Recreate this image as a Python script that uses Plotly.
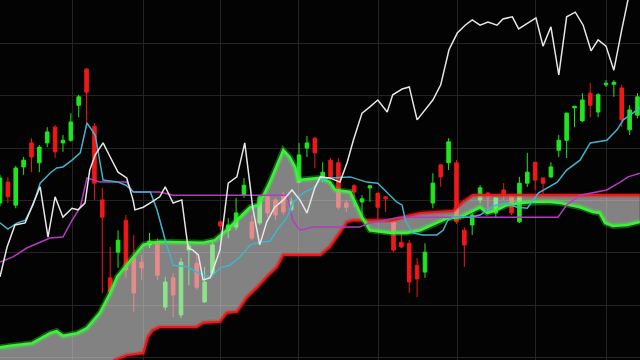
import plotly.graph_objects as go

# ---------------- candles (index-based x) ----------------
opens = [119.5,123.5,119.1,126.4,131.0,127.2,131.0,134.0,131.0,131.5,
         138.2,145.1,134.2,120.1,105.2,110.1,116.2,109.0,108.2,111.5,
         112.0,99.6,105.2,98.1,110.5,108.0,100.6,106.1,115.9,114.3,
         114.9,121.0,115.9,115.7,120.7,120.1,121.0,118.2,123.5,130.0,
         131.9,124.3,127.7,127.2,119.5,122.8,119.7,122.4,121.4,120.7,
         115.9,112.0,111.8,107.6,106.3,119.5,126.8,127.2,127.2,114.3,
         115.3,120.1,121.4,117.6,122.0,120.7,115.9,123.3,127.3,124.3,
         124.5,129.6,131.5,137.7,135.2,140.5,136.9,142.1,142.2,141.5,
         133.5,136.3]
highs = [124.9,124.5,126.6,128.3,131.9,130.6,134.0,134.4,132.5,136.7,
         140.2,145.3,134.8,122.4,111.1,114.3,117.2,113.4,109.6,113.8,
         112.8,105.4,106.1,109.0,111.7,110.0,107.3,112.0,116.1,116.6,
         120.5,124.3,117.2,121.0,121.0,120.5,121.6,120.5,131.0,132.3,
         132.1,127.3,128.1,128.1,120.1,123.1,121.0,122.8,121.4,120.7,
         116.2,113.8,112.4,109.0,111.8,125.2,126.8,131.9,127.7,114.9,
         117.6,122.9,121.6,120.7,123.3,121.0,124.5,129.1,127.3,124.3,
         127.3,132.5,136.7,138.0,140.5,142.4,140.5,143.0,143.0,142.1,
         138.2,140.5]
lows = [118.9,119.5,118.5,124.9,125.4,125.4,130.2,128.1,129.3,131.2,
        135.9,134.8,120.1,102.3,101.9,107.1,105.2,98.7,104.8,110.9,
        104.8,99.0,97.7,97.5,103.8,102.9,100.4,105.4,114.3,112.8,
        114.3,120.5,112.4,115.3,116.8,116.2,117.2,117.4,123.3,128.3,
        126.2,123.5,123.9,118.2,117.8,118.7,116.2,119.7,116.2,117.8,
        110.1,110.9,102.3,101.5,105.2,118.5,122.6,125.8,115.5,107.3,
        113.4,119.5,118.2,116.6,120.1,117.2,115.7,122.6,122.0,120.7,
        124.3,128.3,128.1,134.0,135.0,135.9,135.9,141.7,139.8,134.0,
        132.5,135.7]
closes = [124.3,120.7,126.2,127.7,128.3,130.2,133.1,129.3,131.5,135.0,
          139.8,140.7,123.3,116.8,102.5,112.4,106.7,102.3,107.1,112.2,
          105.7,104.4,101.9,108.2,111.3,103.4,104.4,111.5,115.1,115.3,
          117.6,122.9,112.8,120.7,117.6,117.2,117.8,119.7,128.7,131.0,
          129.1,125.4,124.5,118.7,118.7,121.6,120.3,122.8,118.7,120.3,
          110.5,111.1,104.4,105.0,110.1,123.3,124.5,131.2,115.9,111.5,
          117.2,122.4,120.7,120.5,121.0,117.6,123.3,125.4,123.9,123.3,
          126.4,131.5,136.7,138.0,139.2,138.2,140.2,142.4,142.6,135.4,
          137.3,139.8]
candle_x = list(range(len(opens)))

# ---------------- Ichimoku lines ----------------
tenkan_x = [0,1.0,2.2,3.2,4.2,5.1,6.35,7.2,8.0,9.15,10.2,11.05,12.1,13.1,15.0,16.0,17.0,19.1,19.95,21.0,
            22.0,23.8,24.5,25.8,26.9,27.95,29.2,30.5,31.8,33.0,34.3,35.2,36.5,37.2,38.5,39.8,40.7,41.9,44.5,46.6,
            48.0,49.2,50.4,51.1,51.5,52.4,53.7,55.5,56.3,56.9,57.6,59.7,61.0,62.6,64.2,65.7,67.0,68.4,69.5,70.8,
            72.0,73.7,75.0,77.1,78.4,79.2,80.4,81.3]
tenkan_y = [115.7,114.5,115.7,116.2,119.1,123.3,125.2,126.2,126.4,127.7,129.1,134.8,132.5,123.9,123.5,122.9,121.6,121.6,118.2,112.4,
            107.6,107.3,106.7,105.7,105.4,107.1,107.6,109.2,111.5,112.0,112.2,114.3,116.8,119.5,121.4,122.4,123.9,124.3,124.5,123.5,
            123.3,121.6,119.7,119.1,116.2,113.8,113.4,113.4,114.3,116.2,116.8,116.8,117.2,118.9,119.5,118.7,118.5,121.4,122.4,123.5,
            125.8,127.7,131.0,131.5,133.5,135.4,136.7,137.7]

kijun_x = [0,1.65,3.4,4.7,6.35,8.0,9.15,10.2,11.05,12.7,16.1,16.9,20.3,22.0,36.5,37.2,38.1,39.8,45.7,47.0,
           48.7,50.8,70.9,72.0,73.7,75.0,77.1,78.8,79.8,81.3]
kijun_y = [108.2,109.2,110.9,111.8,112.8,113.0,116.2,118.7,124.3,123.5,123.5,121.6,121.6,121.0,121.0,116.2,114.3,114.9,114.9,115.7,
           116.2,116.8,116.8,119.1,121.0,121.4,122.0,123.5,124.5,125.2]

chikou_x = [0,0.9,1.9,3.2,5.1,6.1,7.0,8.0,9.15,9.9,10.8,11.4,12.1,13.1,14.0,15.0,16.1,16.9,17.15,18.2,
            19.3,20.3,21.0,22.0,23.1,23.9,24.5,25.2,25.8,26.7,27.95,29.0,30.1,31.1,31.8,32.1,33.0,33.9,34.9,36.0,
            37.1,38.1,39.0,40.0,40.7,41.9,43.2,44.1,44.9,46.0,47.0,48.0,49.2,49.9,51.1,52.0,53.0,54.0,55.0,56.0,
            57.05,58.1,59.1,60.0,61.0,62.0,63.15,63.9,65.1,65.9,67.1,68.1,69.0,70.0,71.0,72.0,73.1,74.1,75.1,76.0,
            77.0,78.0,79.0,80.05]
chikou_y = [105.4,111.1,115.3,115.7,122.6,113.0,120.7,116.8,118.5,118.2,119.5,125.8,128.7,131.0,128.3,125.4,124.3,120.1,118.2,118.7,
            119.7,120.7,122.6,119.5,120.1,110.9,110.5,109.6,104.8,105.2,110.5,123.3,124.5,131.0,122.6,118.7,111.5,115.9,118.7,120.1,
            122.0,120.1,117.6,122.4,124.5,124.3,123.5,127.2,131.5,136.7,137.9,139.2,136.9,140.2,141.3,141.7,135.4,137.3,139.2,142.1,
            148.8,152.0,153.5,154.5,153.5,154.1,153.5,154.7,155.1,152.8,153.9,154.9,149.5,153.2,144.0,155.1,156.0,153.5,148.6,150.7,
            149.5,144.9,152.6,160.2]

span_a_x = [0,1.3,4.1,6.35,7.2,8.0,9.8,11.05,12.7,14.0,14.9,16.9,18.2,19.1,20.3,25.8,27.3,28.8,30.5,31.8,
            32.7,33.4,34.3,35.3,36.0,36.8,37.5,37.9,40.7,41.9,42.6,44.5,46.0,47.0,49.6,51.7,53.4,55.5,56.8,58.45,
            59.7,61.0,61.9,63.15,64.4,66.1,67.7,69.9,71.2,73.7,75.35,76.2,76.9,77.9,79.7,81.3]
span_a_y = [91.9,92.2,92.7,94.6,95.0,94.1,94.6,95.6,98.5,102.3,105.4,109.2,111.5,111.9,112.1,111.9,112.4,114.3,116.8,118.7,
            119.1,120.7,123.5,127.2,129.6,128.3,126.4,123.9,124.3,123.5,122.0,121.6,116.8,114.3,113.8,113.8,114.3,115.7,116.6,116.8,
            117.8,118.7,117.6,118.2,119.1,119.5,119.7,119.7,119.5,118.7,117.8,117.6,115.7,115.1,115.3,115.9]

span_b_x = [0,12.7,14.6,16.1,18.2,18.8,19.4,20.3,25.0,25.8,27.95,28.8,30.1,31.4,32.7,33.9,35.2,36.0,40.7,41.9,
            43.2,44.1,44.9,49.9,51.7,53.4,57.6,58.8,60.1,81.3]
span_b_y = [86.6,86.6,89.5,90.4,90.8,93.9,95.2,95.8,95.8,96.6,96.8,98.5,98.7,101.5,103.4,105.4,107.3,109.6,109.6,111.1,
            113.9,115.9,116.2,116.2,117.0,117.6,118.0,119.7,121.0,121.0]

grid_x = [9.15, 18.17, 28.08, 37.99, 48.03, 58.07, 67.98, 77.0]
grid_y = [90, 100, 110, 120, 130, 140, 150]

GREEN = "#1fe61f"
RED = "#f01818"

fig = go.Figure()

fig.add_trace(go.Candlestick(
    x=candle_x, open=opens, high=highs, low=lows, close=closes,
    increasing=dict(line=dict(color=GREEN, width=1), fillcolor=GREEN),
    decreasing=dict(line=dict(color=RED, width=1), fillcolor=RED),
    whiskerwidth=0, showlegend=False, hoverinfo="skip"))

# cloud polygon (drawn over the candles, semi-transparent)
fig.add_trace(go.Scatter(
    x=span_a_x + span_b_x[::-1], y=span_a_y + span_b_y[::-1],
    fill="toself", fillcolor="rgba(222,222,222,0.58)",
    line=dict(width=0), mode="lines", showlegend=False, hoverinfo="skip"))

# span B (red) with glow
fig.add_trace(go.Scatter(x=span_b_x, y=span_b_y, mode="lines",
                         line=dict(color="rgba(240,30,30,0.3)", width=5), showlegend=False))
fig.add_trace(go.Scatter(x=span_b_x, y=span_b_y, mode="lines",
                         line=dict(color="#e81a1a", width=2.2), showlegend=False))
# span A (green) with glow
fig.add_trace(go.Scatter(x=span_a_x, y=span_a_y, mode="lines",
                         line=dict(color="rgba(60,240,60,0.35)", width=6), showlegend=False))
fig.add_trace(go.Scatter(x=span_a_x, y=span_a_y, mode="lines",
                         line=dict(color="#3cf03c", width=2.6), showlegend=False))

fig.add_trace(go.Scatter(x=kijun_x, y=kijun_y, mode="lines",
                         line=dict(color="#b43cc0", width=1.5), showlegend=False))
fig.add_trace(go.Scatter(x=tenkan_x, y=tenkan_y, mode="lines",
                         line=dict(color="#3fb4cc", width=1.5), showlegend=False))
fig.add_trace(go.Scatter(x=chikou_x, y=chikou_y, mode="lines",
                         line=dict(color="#e6e6e6", width=1.5), showlegend=False))

fig.update_layout(
    width=640, height=360, autosize=False,
    margin=dict(l=0, r=0, t=0, b=0, pad=0),
    paper_bgcolor="#030303", plot_bgcolor="#030303",
    boxgap=0.35,
    showlegend=False,
    xaxis=dict(range=[0, 81.32], tickvals=grid_x, showticklabels=False,
               showgrid=True, gridcolor="#242424", gridwidth=1, zeroline=False,
               showline=False, rangeslider=dict(visible=False), fixedrange=True),
    yaxis=dict(range=[89.49, 158.32], tickvals=grid_y,
               showticklabels=False, showgrid=True, gridcolor="#242424", gridwidth=1,
               zeroline=False, showline=False, fixedrange=True),
)

fig.write_html("out.html")
